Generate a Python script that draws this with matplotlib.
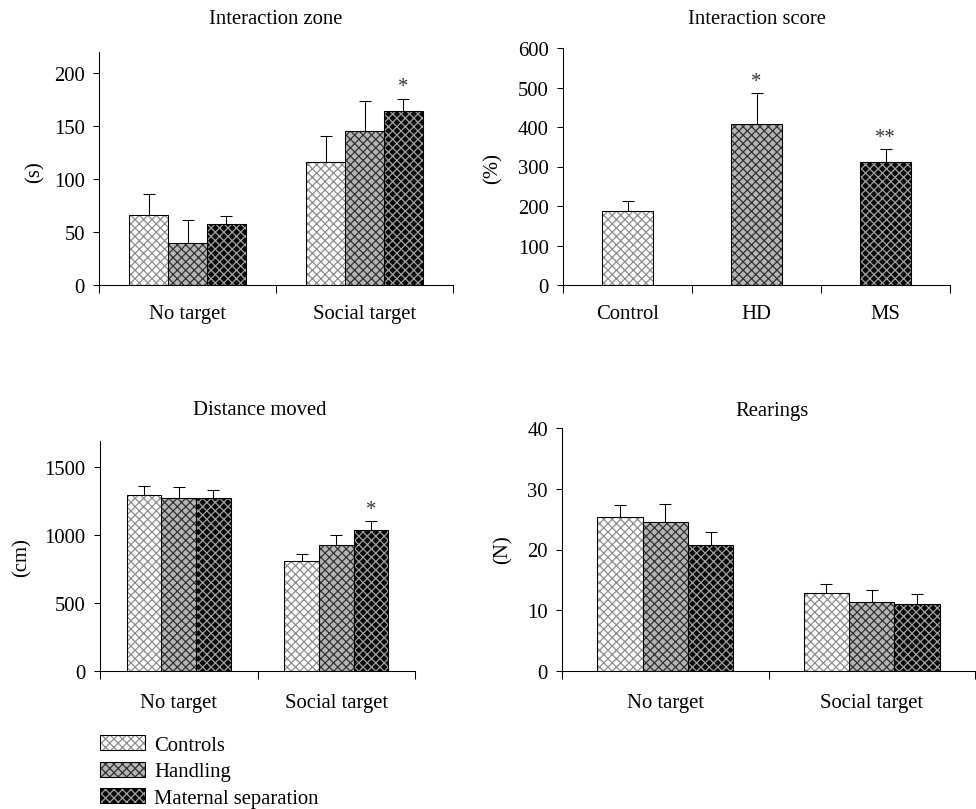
import numpy as np
import matplotlib
matplotlib.use("Agg")
import matplotlib.pyplot as plt
from matplotlib.patches import Patch
from matplotlib.legend_handler import HandlerTuple

# Daten
groups = ["No target", "Social target"]
series = ["Controls", "Handling", "Maternal separation"]

zone_ctrl = [65.7, 115.7]
zone_ctrl_err = [19.8, 25.3]
zone_hand = [40.0, 145.3]
zone_hand_err = [21.0, 28.7]
zone_ms = [57.5, 164.0]
zone_ms_err = [7.5, 12.0]
zone_stars = ["", "*"]

score_groups = ["Control", "HD", "MS"]
score = [187, 408, 311]
score_err = [25, 77, 34]
score_stars = ["", "*", "**"]

dist_ctrl = [1295, 807]
dist_ctrl_err = [61, 55]
dist_hand = [1274, 929]
dist_hand_err = [79, 73]
dist_ms = [1274, 1034]
dist_ms_err = [55, 71]
dist_stars = ["", "*"]

rear_ctrl = [25.3, 12.9]
rear_ctrl_err = [2.0, 1.4]
rear_hand = [24.6, 11.4]
rear_hand_err = [2.9, 1.9]
rear_ms = [20.8, 11.1]
rear_ms_err = [2.0, 1.5]

# Stil
plt.rcParams['font.family'] = ['Liberation Serif', 'DejaVu Serif']
plt.rcParams['hatch.linewidth'] = 1.2
FS = 19.5
HATCH = "xxx"
face = ["white", "#b3b5b7", "#070707"]
hatchcol = ["#8e8e8e", "#333333", "#a0a0a0"]
W, H = 976, 810
DPI = 76

fig = plt.figure(figsize=(W / DPI, H / DPI), dpi=DPI)


def make_ax(left, right, zero_y, top_y):
    # Pixelkoordinaten -> Figurenkoordinaten
    return fig.add_axes([left / W, 1 - zero_y / H, (right - left) / W, (zero_y - top_y) / H])


def hatched_bar(ax, x, h, width, k):
    ax.bar(x, h, width, color=face[k], edgecolor=hatchcol[k], hatch=HATCH, linewidth=0, zorder=2)
    ax.bar(x, h, width, fill=False, edgecolor="black", linewidth=1.0, zorder=3)


def errbar(ax, x, h, err, stars=None, star_off=2):
    ax.errorbar(x, h, yerr=[np.zeros(len(err)), err], fmt="none", ecolor="black",
                elinewidth=1.0, capsize=6, capthick=1.0, zorder=1)
    if stars:
        for xi, hi, ei, s in zip(x, h, err, stars):
            if s:
                ax.annotate(s, xy=(xi, hi + ei), xytext=(0, star_off), textcoords="offset points",
                            ha="center", va="bottom", fontsize=FS, color="#333333")


def style_ax(ax, n, labels, ymax, yticks, pad=12):
    ax.set_xlim(0, n)
    ax.set_ylim(0, ymax)
    ax.spines['right'].set_visible(False)
    ax.spines['top'].set_visible(False)
    ax.spines['left'].set_linewidth(1.0)
    ax.spines['bottom'].set_linewidth(1.0)
    ax.set_yticks(yticks)
    ax.tick_params(axis="y", direction="out", length=5.5, width=1.0, labelsize=FS, pad=8)
    ax.set_xticks(np.arange(n + 1))
    ax.set_xticklabels([""] * (n + 1))
    ax.tick_params(axis="x", which="major", direction="out", length=7.5, width=1.0)
    ax.set_xticks(np.arange(n) + 0.5, minor=True)
    ax.set_xticklabels(labels, minor=True)
    ax.tick_params(axis="x", which="minor", length=0, labelsize=FS, pad=pad)


def grouped(ax, vals, errs, stars):
    x = np.arange(len(groups)) + 0.5
    bw = 0.22
    for k in range(3):
        xs = x + (k - 1) * bw
        hatched_bar(ax, xs, vals[k], bw, k)
        errbar(ax, xs, vals[k], errs[k], stars if k == 2 else None)


# A: Interaction zone
axA = make_ax(99, 453, 286, 53)
grouped(axA, [zone_ctrl, zone_hand, zone_ms], [zone_ctrl_err, zone_hand_err, zone_ms_err], zone_stars)
style_ax(axA, 2, groups, 220, [0, 50, 100, 150, 200], pad=18)

# B: Interaction score
axB = make_ax(563, 950, 286, 49)
xb = np.arange(3) + 0.5
for k in range(3):
    hatched_bar(axB, [xb[k]], [score[k]], 0.4, k)
errbar(axB, xb, score, score_err, score_stars)
style_ax(axB, 3, score_groups, 600, [0, 100, 200, 300, 400, 500, 600], pad=18)

# C: Distance moved
axC = make_ax(100, 415, 672, 442)
grouped(axC, [dist_ctrl, dist_hand, dist_ms], [dist_ctrl_err, dist_hand_err, dist_ms_err], dist_stars)
style_ax(axC, 2, groups, 1690, [0, 500, 1000, 1500], pad=21)

# D: Rearings
axD = make_ax(562, 975, 672, 429)
grouped(axD, [rear_ctrl, rear_hand, rear_ms], [rear_ctrl_err, rear_hand_err, rear_ms_err], None)
style_ax(axD, 2, groups, 40, [0, 10, 20, 30, 40], pad=21)

# Titel
for txt, px, py in [("Interaction zone", 276, 20), ("Interaction score", 757, 20),
                    ("Distance moved", 260, 411), ("Rearings", 772, 412)]:
    fig.text(px / W, 1 - py / H, txt, ha="center", va="center", fontsize=FS)

# Achsenbeschriftung
for txt, px, py in [("(s)", 35, 172), ("(%)", 493, 168), ("(cm)", 22, 558), ("(N)", 503, 550)]:
    fig.text(px / W, 1 - py / H, txt, ha="center", va="center", rotation=90, fontsize=FS)

# Legende
handles = []
for k in range(3):
    handles.append((Patch(facecolor=face[k], edgecolor=hatchcol[k], hatch=HATCH, linewidth=0),
                    Patch(fill=False, edgecolor="black", linewidth=1.0)))
fig.legend(handles, series, handler_map={tuple: HandlerTuple(ndivide=1)},
           loc="upper left", bbox_to_anchor=(100 / W, 1 - 736 / H), frameon=False,
           borderpad=0, borderaxespad=0, handlelength=2.2, handleheight=0.76,
           labelspacing=0.33, handletextpad=0.43, fontsize=FS)

fig.savefig("out.png", dpi=DPI)
